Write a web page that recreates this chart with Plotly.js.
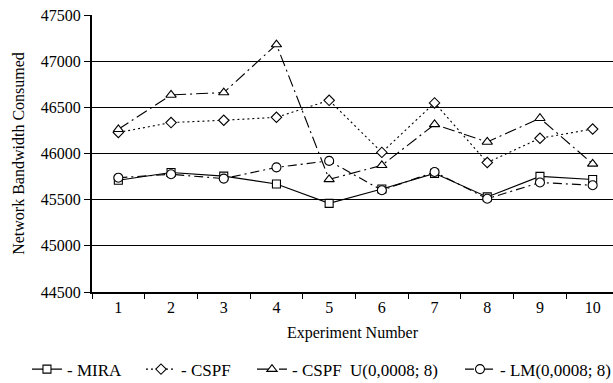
<!DOCTYPE html>
<html>
<head>
<meta charset="utf-8">
<script src="https://cdn.plot.ly/plotly-3.0.1.min.js"></script>
<style>html,body{margin:0;padding:0;background:#fff;}#chart{width:613px;height:383px;}</style>
</head>
<body>
<div id="chart"></div>
<script>
const experiments = ["1","2","3","4","5","6","7","8","9","10"];
const mira  = [45710, 45795, 45755, 45670, 45460, 45615, 45785, 45530, 45752, 45718];
const cspf  = [46228, 46335, 46360, 46392, 46576, 46012, 46548, 45902, 46165, 46265];
const cspfU = [46262, 46634, 46660, 47180, 45720, 45872, 46315, 46125, 46382, 45888];
const lm    = [45738, 45775, 45728, 45850, 45920, 45602, 45800, 45510, 45686, 45656];
const names = ["- MIRA", "- CSPF", "- CSPF  U(0,0008; 8)", "- LM(0,0008; 8)"];

const font = {family: "Liberation Serif, Times New Roman, serif", size: 16, color: "#000"};
const legendFont = {family: "Liberation Serif, Times New Roman, serif", size: 17, color: "#000"};

function tr(y, name, symbol, size, dash, lw){
  const t = {
    x: experiments, y: y, name: name, type: "scatter", mode: "lines+markers",
    line: {color: "#000", width: 1.1, dash: dash},
    marker: {symbol: symbol, size: size, color: "#fff", line: {color: "#000", width: 1.1}}
  };
  if (lw) t.legendwidth = lw;
  return t;
}

const data = [
  tr(mira, names[0], "square", 8, "solid", 69),
  tr(cspf, names[1], "diamond", 8, "2px,3px", 66),
  tr(cspfU, names[2], "triangle-up", 9, "12px,4px,2px,4px", 163),
  tr(lm, names[3], "circle", 9, "9px,4px,2px,4px", 0)
];

const layout = {
  width: 613, height: 383,
  margin: {l: 92, r: 0, t: 15, b: 91, autoexpand: false},
  paper_bgcolor: "#fff", plot_bgcolor: "#fff",
  font: font,
  showlegend: true,
  legend: {orientation: "h", x: -0.1248, xanchor: "left", y: -0.28, yanchor: "middle",
           font: legendFont, itemwidth: 30, tracegroupgap: 0, bgcolor: "rgba(0,0,0,0)"},
  xaxis: {
    type: "category", range: [-0.5, 9.386],
    tickson: "boundaries", ticks: "outside", ticklen: 5, tickwidth: 1, tickcolor: "#000",
    showline: true, linecolor: "#000", linewidth: 2, showgrid: false, zeroline: false,
    tickfont: font,
    title: {text: "Experiment Number", font: font, standoff: 12}
  },
  yaxis: {
    range: [44500, 47500], dtick: 500, tick0: 44500,
    ticks: "outside", ticklen: 6, tickwidth: 1, tickcolor: "#000",
    showline: true, linecolor: "#000", linewidth: 2,
    showgrid: true, gridcolor: "#000", gridwidth: 1, zeroline: false,
    tickfont: font, tickformat: "d",
    title: {text: "Network Bandwidth Consumed", font: font, standoff: 12}
  }
};

Plotly.newPlot("chart", data, layout, {displayModeBar: false, staticPlot: true});
</script>
</body>
</html>
